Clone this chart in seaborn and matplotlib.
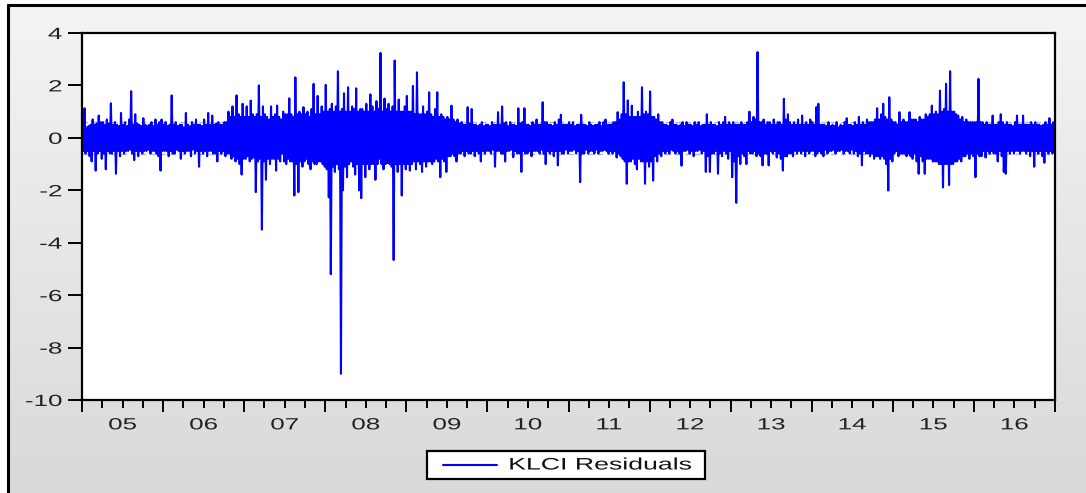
import numpy as np
import pandas as pd
import matplotlib
matplotlib.use('Agg')
import matplotlib.pyplot as plt
import seaborn as sns
from matplotlib.patheffects import AbstractPathEffect
from matplotlib.transforms import Affine2D
from matplotlib.patches import Rectangle
from matplotlib.lines import Line2D
from matplotlib.colors import LinearSegmentedColormap

# ---------------------------------------------------------------
# KLCI residuals: for every 1/40 of a year the
# highest (hi_) and lowest (lo_) residual in that slice
# ---------------------------------------------------------------
years = list(range(2005, 2017))
year_labels = ['05', '06', '07', '08', '09', '10', '11', '12', '13', '14', '15', '16']

hi_2005 = [0.6, 1.13, 0.4, 0.45, 0.5, 0.7, 0.5, 0.55, 0.85, 0.6, 0.6, 0.5, 0.7, 0.55, 1.32, 0.5, 0.6, 0.5, 0.45, 0.95,
           0.5, 0.6, 0.45, 0.7, 1.78, 0.5, 0.9, 0.55, 0.5, 0.45, 0.75, 0.5, 0.45, 0.5, 0.6, 0.45, 0.7, 0.5, 0.6, 0.7]
lo_2005 = [-0.5, -0.6, -0.5, -0.7, -0.9, -0.5, -1.25, -0.6, -0.5, -0.8, -0.6, -1.2, -0.5, -0.6, -0.6, -0.5, -1.37, -0.5, -0.7, -0.5,
           -0.6, -0.5, -0.5, -0.45, -0.6, -0.85, -0.5, -0.7, -0.5, -0.6, -0.5, -0.5, -0.45, -0.6, -0.5, -0.5, -0.6, -0.7, -1.25, -0.5]
hi_2006 = [0.5, 0.6, 0.45, 0.5, 1.62, 0.5, 0.6, 0.45, 0.5, 0.5, 0.4, 0.95, 0.5, 0.45, 0.6, 0.5, 0.7, 0.5, 0.5, 0.45,
           0.7, 0.5, 0.95, 0.5, 0.85, 0.5, 0.55, 0.6, 0.5, 0.5, 0.6, 0.6, 1.0, 0.8, 1.2, 0.8, 1.62, 0.9, 0.8, 1.3]
lo_2006 = [-0.5, -0.5, -0.7, -0.5, -0.6, -0.6, -0.45, -0.5, -0.8, -0.5, -0.6, -0.5, -0.5, -0.7, -0.45, -0.6, -0.5, -1.1, -0.5, -0.6,
           -0.5, -0.7, -0.5, -0.5, -0.6, -0.6, -0.9, -0.5, -0.6, -0.5, -0.7, -0.6, -0.6, -0.8, -0.7, -0.9, -0.8, -1.0, -1.4, -0.8]
hi_2007 = [0.8, 1.2, 0.8, 1.42, 0.9, 0.8, 0.9, 2.0, 0.8, 1.2, 0.9, 0.8, 0.7, 1.2, 0.8, 0.9, 1.23, 0.8, 0.7, 1.0,
           0.9, 0.9, 1.51, 0.9, 0.8, 2.31, 0.9, 1.0, 0.9, 1.17, 0.9, 1.0, 0.8, 1.1, 2.06, 0.9, 1.6, 0.9, 1.2, 1.0]
lo_2007 = [-0.8, -0.7, -0.9, -0.8, -0.75, -2.07, -0.9, -0.8, -3.5, -0.9, -1.6, -0.8, -1.0, -0.8, -0.8, -1.25, -0.8, -0.9, -0.6, -0.9,
           -1.0, -0.8, -0.9, -0.9, -2.2, -1.0, -2.07, -0.9, -1.1, -0.9, -0.8, -1.0, -1.2, -0.9, -1.0, -1.0, -0.9, -0.9, -1.0, -1.1]
hi_2008 = [2.02, 1.0, 1.1, 1.3, 1.0, 1.2, 2.54, 1.0, 1.1, 1.7, 1.0, 1.93, 1.0, 1.2, 1.1, 1.89, 1.0, 1.1, 1.1, 1.0,
           1.3, 1.0, 1.66, 1.2, 1.0, 1.4, 1.1, 3.24, 1.0, 1.5, 1.1, 1.3, 1.0, 1.2, 2.95, 1.0, 1.46, 1.0, 1.0, 1.2]
lo_2008 = [-1.2, -2.27, -5.2, -1.1, -1.3, -1.0, -1.2, -9.0, -2.0, -1.1, -1.5, -1.0, -0.9, -1.1, -1.4, -1.0, -2.0, -2.3, -1.0, -1.5,
           -1.0, -1.2, -1.0, -1.0, -1.6, -1.0, -0.8, -1.0, -1.2, -1.0, -0.96, -1.0, -1.1, -4.66, -1.0, -1.3, -1.0, -2.2, -1.0, -1.2]
hi_2009 = [1.6, 1.0, 1.0, 1.98, 0.9, 2.5, 0.9, 0.9, 1.2, 0.9, 1.0, 1.74, 0.9, 0.8, 1.1, 1.74, 0.8, 0.9, 0.8, 0.7,
           0.8, 0.7, 1.23, 0.7, 0.6, 0.7, 0.55, 0.6, 0.5, 0.5, 1.17, 0.55, 1.1, 0.5, 0.5, 0.45, 0.5, 0.6, 0.45, 0.5]
lo_2009 = [-1.0, -1.25, -1.0, -0.9, -1.2, -0.9, -1.0, -1.3, -0.9, -1.1, -0.9, -0.9, -1.0, -0.9, -0.8, -0.9, -1.5, -0.8, -0.9, -1.3,
           -0.7, -0.7, -0.6, -0.7, -0.9, -0.6, -0.6, -0.5, -0.7, -0.5, -0.6, -0.6, -0.5, -0.7, -0.5, -0.6, -0.9, -0.5, -0.6, -0.5]
hi_2010 = [0.5, 0.45, 0.6, 0.5, 0.5, 0.98, 0.5, 1.2, 0.55, 0.6, 0.45, 0.6, 0.5, 0.5, 0.45, 1.13, 0.55, 0.6, 1.13, 0.5,
           0.5, 0.45, 0.6, 0.5, 0.7, 0.5, 0.5, 1.36, 0.6, 0.6, 0.5, 0.5, 0.45, 0.6, 0.5, 0.7, 0.88, 0.5, 0.5, 0.5]
lo_2010 = [-0.5, -0.6, -0.45, -1.1, -0.5, -0.5, -0.6, -0.6, -0.9, -0.5, -0.5, -0.45, -0.74, -0.5, -0.6, -0.6, -1.3, -0.5, -0.6, -0.6,
           -0.5, -0.7, -0.5, -0.5, -0.5, -0.6, -0.45, -0.6, -1.0, -0.5, -0.6, -0.5, -0.7, -0.5, -1.05, -0.5, -0.6, -0.6, -0.45, -0.6]
hi_2011 = [0.6, 0.5, 0.6, 0.45, 0.5, 0.5, 0.88, 0.5, 0.5, 0.45, 0.6, 0.5, 0.45, 0.5, 0.5, 0.6, 0.45, 0.6, 0.7, 0.5,
           0.5, 0.5, 0.6, 0.6, 0.98, 0.7, 0.9, 2.12, 0.9, 1.43, 0.8, 1.23, 0.8, 0.8, 1.0, 0.8, 1.93, 0.9, 1.0, 0.9]
lo_2011 = [-0.5, -0.5, -0.45, -0.6, -0.5, -1.69, -0.6, -0.6, -0.45, -0.6, -0.5, -0.5, -0.6, -0.45, -0.6, -0.5, -0.5, -0.45, -0.5, -0.6,
           -0.5, -0.6, -0.5, -0.75, -0.6, -0.7, -0.8, -0.9, -1.75, -0.9, -0.9, -0.8, -1.0, -1.2, -0.8, -0.9, -0.9, -1.75, -0.9, -1.1]
hi_2012 = [1.77, 0.8, 0.8, 0.7, 0.9, 0.6, 0.6, 0.5, 0.5, 0.45, 0.6, 0.7, 0.5, 0.5, 0.45, 0.5, 0.6, 0.45, 0.6, 0.5,
           0.5, 0.45, 0.6, 0.5, 0.6, 0.45, 0.5, 0.5, 0.9, 0.5, 0.6, 0.5, 0.5, 0.45, 0.6, 0.5, 0.6, 0.8, 0.5, 0.6]
lo_2012 = [-0.9, -1.63, -0.7, -0.9, -0.6, -0.7, -0.5, -0.6, -0.5, -0.6, -0.45, -0.5, -0.6, -0.5, -0.6, -1.06, -0.5, -0.5, -0.45, -0.6,
           -0.5, -0.7, -0.5, -0.5, -0.45, -0.6, -0.5, -1.3, -0.7, -1.3, -0.6, -0.6, -0.5, -1.37, -0.6, -0.7, -0.5, -0.6, -0.8, -0.5]
hi_2013 = [0.5, 0.6, 0.5, 0.5, 0.5, 0.6, 0.5, 0.5, 0.6, 1.0, 0.6, 0.8, 0.7, 3.27, 0.6, 0.6, 0.7, 0.5, 0.6, 0.6,
           0.5, 0.7, 0.5, 0.6, 0.6, 0.5, 1.49, 0.7, 0.9, 0.6, 0.5, 0.6, 0.5, 0.7, 0.5, 0.85, 0.5, 0.6, 0.5, 0.7]
lo_2013 = [-1.5, -0.9, -2.48, -0.7, -1.0, -0.6, -0.7, -1.0, -0.5, -0.6, -0.6, -0.5, -0.7, -0.6, -0.7, -1.05, -0.6, -0.6, -1.05, -0.5,
           -0.6, -0.5, -0.75, -0.6, -0.8, -1.25, -0.7, -0.7, -0.6, -0.6, -0.7, -0.5, -0.6, -0.5, -0.6, -0.5, -0.7, -0.5, -0.6, -0.5]
hi_2014 = [0.6, 0.5, 1.17, 1.3, 0.5, 0.5, 0.5, 0.45, 0.6, 0.45, 0.5, 0.45, 0.6, 0.4, 0.5, 0.45, 0.6, 0.75, 0.5, 0.5,
           0.45, 0.6, 0.5, 0.8, 0.5, 0.6, 0.5, 0.7, 0.6, 0.6, 0.6, 0.7, 1.13, 0.7, 0.9, 1.3, 0.8, 0.7, 1.55, 0.7]
lo_2014 = [-0.5, -0.7, -0.6, -0.5, -0.6, -0.7, -0.45, -0.6, -0.5, -0.5, -0.45, -0.6, -0.5, -0.5, -0.45, -0.6, -0.5, -0.5, -0.6, -0.45,
           -0.6, -0.5, -0.7, -0.6, -1.05, -0.5, -0.6, -0.6, -0.7, -0.6, -0.8, -0.7, -0.7, -0.8, -0.7, -0.8, -1.0, -2.01, -0.8, -0.9]
hi_2015 = [0.6, 0.6, 0.5, 0.98, 0.6, 0.7, 0.6, 0.6, 0.98, 0.7, 0.7, 0.7, 0.6, 0.8, 0.7, 0.7, 0.9, 0.8, 0.9, 1.23,
           0.9, 1.0, 0.9, 1.8, 1.0, 1.1, 2.06, 1.0, 2.54, 1.0, 1.0, 0.9, 0.85, 0.7, 0.8, 0.6, 0.7, 0.6, 0.6, 0.6]
lo_2015 = [-0.6, -0.5, -0.7, -0.6, -0.6, -0.6, -0.7, -0.6, -0.7, -0.8, -0.6, -0.9, -1.37, -0.7, -0.9, -1.37, -0.8, -0.8, -0.8, -0.9,
           -0.9, -0.9, -1.0, -1.0, -1.89, -1.0, -1.0, -1.8, -1.0, -1.0, -0.9, -0.9, -0.8, -0.9, -0.7, -0.7, -0.6, -0.8, -0.6, -0.7]
hi_2016 = [0.6, 0.6, 2.25, 0.6, 0.6, 0.5, 0.6, 0.5, 0.5, 0.85, 0.5, 0.5, 0.6, 0.9, 0.6, 0.5, 0.6, 0.5, 0.5, 0.45,
           0.6, 0.85, 0.5, 0.5, 0.85, 0.5, 0.5, 0.5, 0.6, 0.5, 0.6, 0.5, 0.5, 0.45, 0.5, 0.6, 0.5, 0.75, 0.5, 0.6]
lo_2016 = [-1.5, -0.6, -0.7, -0.7, -0.5, -0.75, -0.5, -0.6, -0.5, -0.6, -0.6, -0.9, -0.5, -0.7, -1.3, -1.37, -0.5, -0.6, -0.5, -0.6,
           -0.5, -0.5, -0.6, -0.5, -0.5, -0.6, -0.5, -0.7, -0.5, -1.1, -0.5, -0.6, -0.5, -0.7, -0.95, -0.5, -0.6, -0.5, -0.6, -0.3]

highs = [hi_2005, hi_2006, hi_2007, hi_2008, hi_2009, hi_2010,
         hi_2011, hi_2012, hi_2013, hi_2014, hi_2015, hi_2016]
lows = [lo_2005, lo_2006, lo_2007, lo_2008, lo_2009, lo_2010,
        lo_2011, lo_2012, lo_2013, lo_2014, lo_2015, lo_2016]

y_ticks = [-10, -8, -6, -4, -2, 0, 2, 4]
y_labels = ['-10', '-8', '-6', '-4', '-2', '0', '2', '4']
band = 0.62  # dashed reference lines


# the EViews export is stretched sideways, so widen the glyphs as well
class Stretch(AbstractPathEffect):
    def __init__(self, sx, anchor='center'):
        super().__init__()
        self.sx = sx
        self.anchor = anchor

    def draw_path(self, renderer, gc, tpath, affine, rgbFace=None):
        if len(tpath.vertices) == 0:
            return
        ext = tpath.get_extents()
        if self.anchor == 'left':
            x0 = ext.x0
        elif self.anchor == 'right':
            x0 = ext.x1
        else:
            x0 = (ext.x0 + ext.x1) / 2
        st = Affine2D().translate(-x0, 0).scale(self.sx, 1).translate(x0, 0)
        renderer.draw_path(gc, tpath, st + affine, rgbFace)


# long table: high then low of each slice, in time order
rows = []
for yr, hi, lo in zip(years, highs, lows):
    n = len(hi)
    for i in range(n):
        rows.append((yr + (2 * i + 0.5) / (2 * n), hi[i]))
        rows.append((yr + (2 * i + 1.5) / (2 * n), lo[i]))
df = pd.DataFrame(rows, columns=['t', 'resid'])

sns.set_style('ticks')
plt.rcParams['font.family'] = ['Liberation Sans', 'DejaVu Sans']

W, H = 1086, 493
fig = plt.figure(figsize=(W / 100, H / 100), dpi=100, facecolor='white')

# grey gradient panel behind the chart
bg = fig.add_axes([8 / W, 0, 1 - 8 / W, 1 - 5 / H], zorder=-10)
grad = LinearSegmentedColormap.from_list('bg', ['#f4f4f4', '#d9d9d9'])
bg.imshow(np.linspace(0, 1, 256).reshape(-1, 1), cmap=grad, aspect='auto',
          extent=[0, 1, 0, 1])
bg.axis('off')

ax = fig.add_axes([82 / W, 93 / H, 973 / W, 367 / H])
ax.set_facecolor('white')

ax.axhline(band, color='#b8b8b8', lw=1, ls=(0, (4, 3)), zorder=0)
ax.axhline(-band, color='#b8b8b8', lw=1, ls=(0, (4, 3)), zorder=0)

sns.lineplot(data=df, x='t', y='resid', color='#0000ff', linewidth=1.5,
             estimator=None, legend=False, ax=ax)

ax.set_xlim(2005, 2017)
ax.set_ylim(-10, 4)
ax.set_xlabel('')
ax.set_ylabel('')

ax.set_yticks(y_ticks, labels=y_labels)
ax.set_xticks(range(2005, 2018), labels=[''] * 13)
minor_pos, minor_lab = [], []
for yr, lab in zip(years, year_labels):
    minor_pos += [yr + 0.25, yr + 0.5, yr + 0.75]
    minor_lab += ['', lab, '']
ax.set_xticks(minor_pos, labels=minor_lab, minor=True)

ax.tick_params(axis='x', which='major', direction='out', length=8.6, width=1.4, color='black')
ax.tick_params(axis='x', which='minor', direction='out', length=5.5, width=1.4, color='black',
               pad=7, labelsize=11.7, labelcolor='#222222')
ax.tick_params(axis='y', direction='out', length=10, width=1.4, color='black',
               pad=4.3, labelsize=11.7, labelcolor='#222222')

for lab in ax.get_xticklabels(minor=True):
    lab.set_path_effects([Stretch(1.6, 'center')])
for lab in ax.get_yticklabels():
    lab.set_path_effects([Stretch(1.6, 'right')])

for s in ax.spines.values():
    s.set_color('black')
    s.set_linewidth(1.6)

# legend box under the axis
fig.add_artist(Rectangle((427 / W, 1 - 479 / H), 278 / W, 28 / H, transform=fig.transFigure,
                         facecolor='white', edgecolor='black', lw=1.6))
fig.add_artist(Line2D([443 / W, 497 / W], [1 - 465 / H] * 2, transform=fig.transFigure,
                      color='#0000ff', lw=1.5))
fig.text(509 / W, 1 - 465 / H, 'KLCI Residuals', ha='left', va='center', fontsize=12,
         color='#111111', path_effects=[Stretch(1.6, 'left')])

# outer frame on top and left
fig.add_artist(Line2D([8 / W, 1], [1 - 5 / H] * 2, transform=fig.transFigure, color='black', lw=2.2))
fig.add_artist(Line2D([8 / W, 8 / W], [0, 1 - 5 / H], transform=fig.transFigure, color='black', lw=2.2))

fig.savefig('out.png', dpi=100)
